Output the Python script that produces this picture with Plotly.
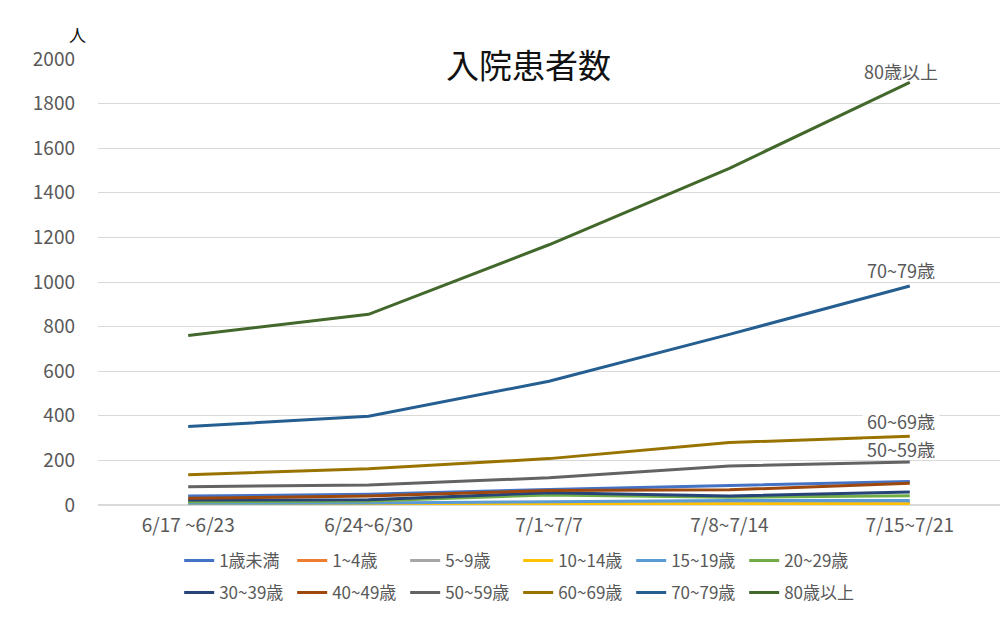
import plotly.graph_objects as go

# weekly periods
weeks = ["6/17 ~6/23", "6/24~6/30", "7/1~7/7", "7/8~7/14", "7/15~7/21"]

# age groups (legend order)
age_groups = ["1歳未満", "1~4歳", "5~9歳", "10~14歳", "15~19歳", "20~29歳",
              "30~39歳", "40~49歳", "50~59歳", "60~69歳", "70~79歳", "80歳以上"]

# hospitalised patients per week
under_1 = [40, 48, 70, 88, 105]
age_1_4 = [6, 6, 9, 12, 12]
age_5_9 = [4, 4, 6, 9, 9]
age_10_14 = [2, 2, 3, 5, 5]
age_15_19 = [8, 9, 15, 20, 20]
age_20_29 = [15, 18, 45, 35, 42]
age_30_39 = [22, 24, 55, 40, 58]
age_40_49 = [30, 40, 65, 68, 98]
age_50_59 = [82, 90, 122, 175, 193]
age_60_69 = [136, 162, 208, 280, 308]
age_70_79 = [352, 398, 555, 765, 982]
age_80_up = [760, 855, 1167, 1510, 1895]

series = [under_1, age_1_4, age_5_9, age_10_14, age_15_19, age_20_29,
          age_30_39, age_40_49, age_50_59, age_60_69, age_70_79, age_80_up]

colors = ["#4472C4", "#ED7D31", "#A5A5A5", "#FFC000", "#5B9BD5", "#70AD47",
          "#264478", "#9E480E", "#636363", "#997300", "#255E91", "#43682B"]

# lines labelled at their last point -> vertical offset of the label (px)
end_labels = {"50~59歳": 13, "60~69歳": 15, "70~79歳": 16, "80歳以上": 11}

font_family = "Noto Sans CJK JP"
grey = "#595959"

fig = go.Figure()

for i, (name, vals, col) in enumerate(zip(age_groups, series, colors)):
    # first six in the top legend row, the rest in the second
    fig.add_trace(go.Scatter(x=weeks, y=vals, mode="lines", name=name,
                             line=dict(color=col, width=3),
                             legend="legend" if i < 6 else "legend2"))

for name, vals in zip(age_groups, series):
    if name in end_labels:
        # tight white box so the label hides the gridline but not the line end
        fig.add_annotation(x=weeks[-1], y=vals[-1], text=name, showarrow=False,
                           xanchor="center", yanchor="middle",
                           xshift=-9, yshift=end_labels[name],
                           bgcolor="white", borderpad=0, height=18, width=76,
                           font=dict(size=18, color=grey))

fig.add_annotation(xref="paper", yref="paper", x=0.477, y=1.0, yshift=-5,
                   yanchor="middle", text="入院患者数", showarrow=False,
                   bgcolor="white", borderpad=6,
                   font=dict(size=33, color="#111111"))
fig.add_annotation(xref="paper", yref="paper", x=-0.023, y=1.0, yshift=25,
                   xanchor="center", yanchor="middle", text="人", showarrow=False,
                   font=dict(size=17, color="#111111"))

legend_style = dict(orientation="h", xanchor="left", yanchor="middle",
                    entrywidth=68, font=dict(size=17, color=grey),
                    bgcolor="rgba(0,0,0,0)")

fig.update_layout(
    width=1000, height=637,
    margin=dict(l=98, r=0, t=59, b=132),
    paper_bgcolor="white", plot_bgcolor="white",
    font=dict(family=font_family, size=17, color=grey),
    showlegend=True,
    legend=dict(x=0.09, y=-0.1256, **legend_style),
    legend2=dict(x=0.09, y=-0.197, **legend_style),
    xaxis=dict(type="category", range=[-0.5, 4.5], showgrid=False,
               showline=False, ticks="", tickfont=dict(size=19, color=grey),
               ticklabelstandoff=7),
    yaxis=dict(range=[0, 2000], dtick=200, showgrid=True, gridcolor="#D9D9D9",
               zeroline=True, zerolinecolor="#D9D9D9", showline=False,
               ticks="", tickfont=dict(size=19, color=grey), ticklabelstandoff=22),
)

# the page's default body margin would shift the chart by 8px
fig.write_html("out.html", config={"displayModeBar": False},
               post_script="document.body.style.margin='0';")
